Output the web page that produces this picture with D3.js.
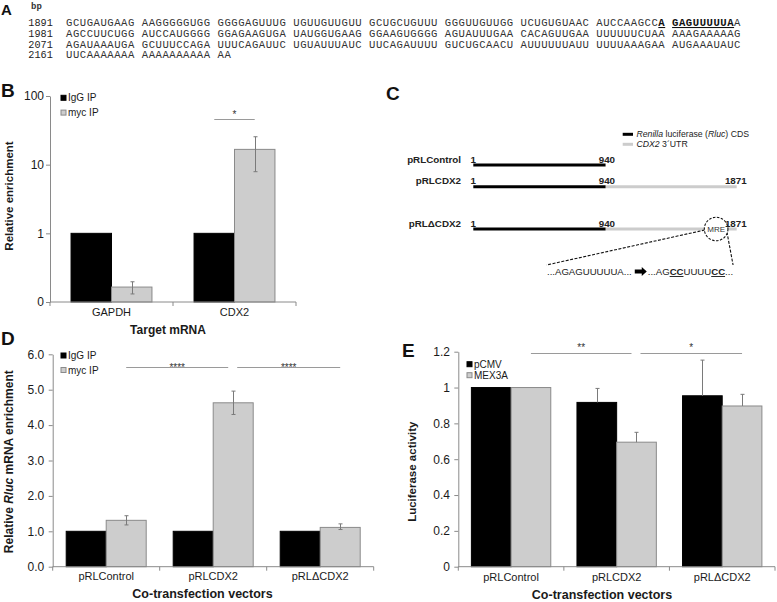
<!DOCTYPE html>
<html><head><meta charset="utf-8">
<script src="https://cdn.jsdelivr.net/npm/d3@7"></script>
<style>body{margin:0;background:#fff}svg{display:block;font-family:"Liberation Sans",Arial,sans-serif}</style>
</head><body><svg id="c" width="777" height="602"></svg>
<script>
// ---------- DATA ----------
// Panel A: CDX2 3'UTR sequence
const seqStarts = ["1891", "1981", "2071", "2161"];
const seqRows = [
  "GCUGAUGAAG AAGGGGGUGG GGGGAGUUUG UGUUGUUGUU GCUGCUGUUU GGGUUGUUGG UCUGUGUAAC AUCCAAGCCA GAGUUUUUAA",
  "AGCCUUCUGG AUCCAUGGGG GGAGAAGUGA UAUGGUGAAG GGAAGUGGGG AGUAUUUGAA CACAGUUGAA UUUUUUCUAA AAAGAAAAAG",
  "AGAUAAAUGA GCUUUCCAGA UUUCAGAUUC UGUAUUUAUC UUCAGAUUUU GUCUGCAACU AUUUUUUAUU UUUUAAAGAA AUGAAAUAUC",
  "UUCAAAAAAA AAAAAAAAAA AA"
];
const motifRanges = [[86, 87], [88, 97]]; // bold + underlined characters of row 1

// Panel B: RIP, log scale
const ripCats = ["GAPDH", "CDX2"];
const ripIgG = [1, 1];
const ripMyc = [0.165, 16.7];
const ripMycLo = [0.131, 7.9];
const ripMycHi = [0.197, 25.5];
const ripTicks = [0.1, 1, 10, 100];
const ripTickLabels = ["0", "1", "10", "100"];
const ripSig = [["CDX2", "CDX2", "*", 46]];

// Panel C: constructs
const constructs = ["pRLControl", "pRLCDX2", "pRL\u0394CDX2"];
const cdsEnd = [940, 940, 940];
const utrEnd = [null, 1871, 1871];
const mrePos = 1725;

// Panel D: Rluc mRNA enrichment
const vecCats = ["pRLControl", "pRLCDX2", "pRL\u0394CDX2"];
const rlucIgG = [1, 1, 1];
const rlucMyc = [1.31, 4.63, 1.11];
const rlucMycLo = [1.18, 4.30, 1.05];
const rlucMycHi = [1.44, 4.96, 1.21];
const rlucTicks = [0, 1, 2, 3, 4, 5, 6];
const rlucTickLabels = ["0.0", "1.0", "2.0", "3.0", "4.0", "5.0", "6.0"];
const rlucSig = [["pRLControl", "pRLCDX2", "****", 5.65], ["pRLCDX2", "pRL\u0394CDX2", "****", 5.65]];

// Panel E: luciferase activity
const lucPCMV = [1, 0.917, 0.954];
const lucPCMVErr = [0, 0.078, 0.199];
const lucMEX3A = [1, 0.695, 0.897];
const lucMEX3AErr = [0, 0.055, 0.065];
const lucTicks = [0, 0.2, 0.4, 0.6, 0.8, 1, 1.2];
const lucTickLabels = ["0", "0.2", "0.4", "0.6", "0.8", "1", "1.2"];
const lucSig = [["pRLControl", "pRLCDX2", "**", 1.191], ["pRLCDX2", "pRL\u0394CDX2", "*", 1.191]];

// ---------- STYLE ----------
const svg = d3.select("#c");
const AX = "#8a8a8a", TXT = "#1a1a1a", GF = "#cdcdcd", GS = "#8a8a8a";

function panelLabel(t, x, y, fs) {
  svg.append("text").attr("x", x).attr("y", y).attr("font-size", fs || 19)
    .attr("font-weight", "bold").attr("fill", "#111").text(t);
}

// ---------- PANEL A ----------
panelLabel("A", 1, 15, 15);
svg.append("text").attr("x", 31).attr("y", 9).attr("font-family", "Liberation Mono, monospace")
  .attr("font-size", 9).attr("font-weight", "bold").attr("fill", "#333").text("bp");
const rowY = d3.scalePoint().domain(d3.range(seqRows.length)).range([26, 58.4]);
seqRows.forEach((row, r) => {
  svg.append("text").attr("x", 28.3).attr("y", rowY(r))
    .attr("font-family", "Liberation Mono, monospace").attr("font-size", 10.2).attr("fill", "#222")
    .text(seqStarts[r]);
  const t = svg.append("text").attr("x", 66).attr("y", rowY(r))
    .attr("font-family", "Liberation Mono, monospace").attr("font-size", 10.6)
    .attr("letter-spacing", 0.53).attr("fill", "#333").attr("xml:space", "preserve")
    .style("white-space", "pre");
  let segs = [];
  if (r === 0) {
    let pos = 0;
    motifRanges.forEach(([a, b]) => {
      if (a > pos) segs.push([row.slice(pos, a), false]);
      segs.push([row.slice(a, b), true]);
      pos = b;
    });
    segs.push([row.slice(pos), false]);
  } else segs.push([row, false]);
  segs.forEach(([s, b]) => {
    const ts = t.append("tspan").text(s);
    if (b) ts.attr("font-weight", "bold").attr("fill", "#111").attr("text-decoration", "underline");
  });
});

// ---------- generic bar panel ----------
function barPanel(cfg) {
  const g = svg.append("g");
  const x = d3.scaleBand().domain(cfg.cats).range(cfg.xr).padding(0);
  const xs = d3.scaleBand().domain(cfg.series.map(s => s.name)).range([0, x.bandwidth()])
    .paddingInner(0).paddingOuter(cfg.outer);
  const y = cfg.y;
  const base = y.range()[0];

  cfg.series.forEach(s => {
    g.append("g").selectAll("rect").data(cfg.cats).join("rect")
      .attr("x", c => x(c) + xs(s.name))
      .attr("y", (c, i) => y(s.values[i]))
      .attr("width", xs.bandwidth())
      .attr("height", (c, i) => base - y(s.values[i]))
      .attr("fill", s.fill)
      .attr("stroke", s.stroke).attr("stroke-width", 1);
  });
  cfg.series.forEach(s => {
    if (!s.hi) return;
    const eg = g.append("g").attr("stroke", "#7a7a7a").attr("stroke-width", 1);
    cfg.cats.forEach((c, i) => {
      const hi = s.hi[i], lo = s.lo ? s.lo[i] : s.values[i];
      if (hi == null || hi === s.values[i]) return;
      const cx = Math.round(x(c) + xs(s.name) + xs.bandwidth() / 2) + 0.5;
      eg.append("line").attr("x1", cx).attr("x2", cx).attr("y1", y(hi)).attr("y2", y(lo));
      eg.append("line").attr("x1", cx - 2).attr("x2", cx + 2).attr("y1", y(hi)).attr("y2", y(hi));
      if (s.lo) eg.append("line").attr("x1", cx - 2).attr("x2", cx + 2).attr("y1", y(lo)).attr("y2", y(lo));
    });
  });

  const ya = d3.axisLeft(y).tickValues(cfg.ticks).tickFormat((d, i) => cfg.tickLabels[i])
    .tickSize(4).tickSizeOuter(0).tickPadding(cfg.tickPad);
  const yg = g.append("g").attr("transform", `translate(${cfg.xr[0]},0)`).call(ya);
  yg.select(".domain").attr("stroke", AX);
  yg.selectAll(".tick line").attr("stroke", AX);
  yg.selectAll("text").attr("font-size", 12).attr("fill", TXT)
    .attr("font-family", '"Liberation Sans", Arial, sans-serif');

  g.append("line").attr("x1", cfg.xr[0]).attr("x2", cfg.xr[1]).attr("y1", base).attr("y2", base)
    .attr("stroke", AX);
  const bounds = cfg.cats.map(c => x(c)).concat([x(cfg.cats[cfg.cats.length - 1]) + x.bandwidth()]);
  g.append("g").selectAll("line").data(bounds).join("line")
    .attr("x1", d => d).attr("x2", d => d).attr("y1", base).attr("y2", base + 4).attr("stroke", AX);
  g.append("g").selectAll("text").data(cfg.cats).join("text")
    .attr("x", c => x(c) + x.bandwidth() / 2).attr("y", base + cfg.labelDy)
    .attr("text-anchor", "middle").attr("font-size", 11).attr("fill", TXT).text(c => c);

  g.append("text").attr("x", cfg.xTitle[1]).attr("y", cfg.xTitle[2]).attr("text-anchor", "middle")
    .attr("font-size", cfg.xTitle[3]).attr("font-weight", "bold").attr("fill", TXT).text(cfg.xTitle[0]);
  const yt = g.append("text").attr("transform", `translate(${cfg.yTitle.x},${cfg.yTitle.y}) rotate(-90)`)
    .attr("dy", "0.35em").attr("text-anchor", "middle").attr("font-size", cfg.yTitle.fs)
    .attr("font-weight", "bold").attr("fill", TXT);
  cfg.yTitle.parts.forEach(([t, it]) => {
    const ts = yt.append("tspan").text(t);
    if (it) ts.attr("font-style", "italic");
  });

  const sname = cfg.series[cfg.series.length - 1].name;
  const sname0 = cfg.series[0].name;
  cfg.sig.forEach(([a, b, lab, v], k) => {
    let x1, x2;
    if (a === b) { x1 = x(a) + xs(sname0) + xs.bandwidth() / 2; x2 = x(b) + xs(sname) + xs.bandwidth() / 2; }
    else {
      x1 = x(a) + xs(sname) + xs.bandwidth() / 2 + (k > 0 ? 4 : 0);
      x2 = x(b) + xs(sname) + xs.bandwidth() / 2 - (k === 0 ? 5 : 0);
    }
    const yy = Math.round(y(v)) + 0.5;
    g.append("line").attr("x1", x1).attr("x2", x2).attr("y1", yy).attr("y2", yy)
      .attr("stroke", "#9a9a9a").attr("stroke-width", 1);
    g.append("text").attr("x", (x1 + x2) / 2).attr("y", yy + cfg.starDy).attr("text-anchor", "middle")
      .attr("font-size", 10).attr("fill", "#333").text(lab);
  });

  cfg.series.forEach((s, i) => {
    const ly = cfg.legend[1] + i * cfg.legend[2];
    g.append("rect").attr("x", cfg.legend[0]).attr("y", ly - 2.5).attr("width", 5).attr("height", 5)
      .attr("fill", s.fill).attr("stroke", s.stroke);
    g.append("text").attr("x", cfg.legend[0] + 7).attr("y", ly + 3.6).attr("font-size", 10)
      .attr("fill", TXT).text(s.name);
  });
  return { x, xs, y };
}

// ---------- PANEL B ----------
panelLabel("B", 1, 96.7);
barPanel({
  cats: ripCats, xr: [50, 296], outer: 0.52,
  y: d3.scaleLog().domain([0.1, 100]).range([302, 96]),
  ticks: ripTicks, tickLabels: ripTickLabels, tickPad: 2,
  series: [
    { name: "IgG IP", values: ripIgG, fill: "#000", stroke: "#000" },
    { name: "myc IP", values: ripMyc, lo: ripMycLo, hi: ripMycHi, fill: GF, stroke: GS }
  ],
  labelDy: 13.5, xTitle: ["Target mRNA", 168, 333.5, 12],
  yTitle: { x: 9, y: 196, fs: 11.5, parts: [["Relative enrichment", false]] },
  sig: ripSig, starDy: -1.5, legend: [61, 97.8, 14.8]
});

// ---------- PANEL D ----------
panelLabel("D", 1, 345);
barPanel({
  cats: vecCats, xr: [52.7, 373.7], outer: 0.3375,
  y: d3.scaleLinear().domain([0, 6]).range([566.7, 354.3]),
  ticks: rlucTicks, tickLabels: rlucTickLabels, tickPad: 4.5,
  series: [
    { name: "IgG IP", values: rlucIgG, fill: "#000", stroke: "#000" },
    { name: "myc IP", values: rlucMyc, lo: rlucMycLo, hi: rlucMycHi, fill: GF, stroke: GS }
  ],
  labelDy: 13, xTitle: ["Co-transfection vectors", 202.5, 597.8, 12.5],
  yTitle: { x: 8.5, y: 461.7, fs: 12, parts: [["Relative ", false], ["Rluc", true], [" mRNA enrichment", false]] },
  sig: rlucSig, starDy: 3, legend: [61, 355.5, 14.5]
});

// ---------- PANEL E ----------
panelLabel("E", 402, 356.7);
barPanel({
  cats: vecCats, xr: [458.3, 775], outer: 0.33,
  y: d3.scaleLinear().domain([0, 1.2]).range([566.7, 351.7]),
  ticks: lucTicks, tickLabels: lucTickLabels, tickPad: 4.3,
  series: [
    { name: "pCMV", values: lucPCMV, hi: lucPCMV.map((v, i) => v + lucPCMVErr[i]), fill: "#000", stroke: "#000" },
    { name: "MEX3A", values: lucMEX3A, hi: lucMEX3A.map((v, i) => v + lucMEX3AErr[i]), fill: GF, stroke: GS }
  ],
  labelDy: 14, xTitle: ["Co-transfection vectors", 602, 599.3, 12.5],
  yTitle: { x: 411.7, y: 471.7, fs: 11.5, parts: [["Luciferase activity", false]] },
  sig: lucSig, starDy: -3, legend: [467, 364.2, 11]
});

// ---------- PANEL C ----------
panelLabel("C", 386, 100);
const cx = d3.scaleLinear().domain([1, 1871]).range([473.3, 736.7]);
const cy = d3.scaleOrdinal().domain(constructs).range([165, 186.7, 229]);
const cg = svg.append("g");
cg.append("line").attr("x1", 622.7).attr("x2", 633).attr("y1", 134.3).attr("y2", 134.3)
  .attr("stroke", "#000").attr("stroke-width", 3);
const l1 = cg.append("text").attr("x", 636.5).attr("y", 137.4).attr("font-size", 8.7).attr("fill", "#222");
l1.append("tspan").attr("font-style", "italic").text("Renilla");
l1.append("tspan").text(" luciferase (");
l1.append("tspan").attr("font-style", "italic").text("Rluc");
l1.append("tspan").text(") CDS");
cg.append("line").attr("x1", 622.7).attr("x2", 633).attr("y1", 144.3).attr("y2", 144.3)
  .attr("stroke", "#cccccc").attr("stroke-width", 3);
const l2 = cg.append("text").attr("x", 636.5).attr("y", 147.4).attr("font-size", 8.7).attr("fill", "#222");
l2.append("tspan").attr("font-style", "italic").text("CDX2");
l2.append("tspan").text(" 3\u00B4UTR");

constructs.forEach((c, i) => {
  const yy = cy(c);
  if (utrEnd[i]) cg.append("line").attr("x1", cx(cdsEnd[i])).attr("x2", cx(utrEnd[i])).attr("y1", yy).attr("y2", yy)
    .attr("stroke", "#cccccc").attr("stroke-width", 3);
  cg.append("line").attr("x1", cx(1)).attr("x2", cx(cdsEnd[i])).attr("y1", yy).attr("y2", yy)
    .attr("stroke", "#000").attr("stroke-width", 3);
  cg.append("text").attr("x", 461).attr("y", yy - 2.5).attr("text-anchor", "end").attr("font-size", 9.8)
    .attr("font-weight", "bold").attr("fill", "#222").text(c);
  cg.append("text").attr("x", cx(1)).attr("y", yy - 2.5).attr("text-anchor", "middle").attr("font-size", 9.8)
    .attr("font-weight", "bold").attr("fill", "#222").text("1");
  cg.append("text").attr("x", cx(cdsEnd[i]) + 9.5).attr("y", yy - 2.5).attr("text-anchor", "end").attr("font-size", 9.8)
    .attr("font-weight", "bold").attr("fill", "#222").text(cdsEnd[i]);
});
const mreY = cy(constructs[2]);
const mreX = cx(mrePos);
const R = 11.8;
const s1 = cg.append("text").attr("x", 547).attr("y", 275).attr("font-size", 9.6).attr("fill", "#222")
  .text("...AGAGUUUUUA...");
const w1 = s1.node().getComputedTextLength();
const ax0 = 547 + w1 + 3;
cg.append("path").attr("d", `M${ax0},${269.5}h7v-2.5l5,4.5l-5,4.5v-2.5h-7z`).attr("fill", "#000");
const s2 = cg.append("text").attr("x", ax0 + 13).attr("y", 275).attr("font-size", 9.6).attr("fill", "#222");
[["...AG", false], ["CC", true], ["UUUU", false], ["CC", true], ["...", false]].forEach(([t, b]) => {
  const ts = s2.append("tspan").text(t);
  if (b) ts.attr("font-weight", "bold").attr("text-decoration", "underline");
});
const w2 = s2.node().getComputedTextLength();
cg.append("line").attr("x1", mreX - R + 0.5).attr("y1", mreY + 1).attr("x2", 546.5).attr("y2", 265)
  .attr("stroke", "#111").attr("stroke-width", 1.1).attr("stroke-dasharray", "3,1.5");
cg.append("line").attr("x1", mreX + R - 1).attr("y1", mreY + 3).attr("x2", ax0 + 13 + w2).attr("y2", 265)
  .attr("stroke", "#111").attr("stroke-width", 1.1).attr("stroke-dasharray", "3,1.5");
cg.append("circle").attr("cx", mreX).attr("cy", mreY).attr("r", R).attr("fill", "#fff")
  .attr("stroke", "#111").attr("stroke-width", 1.1).attr("stroke-dasharray", "2.5,1.5");
cg.append("text").attr("x", mreX).attr("y", mreY + 3).attr("text-anchor", "middle").attr("font-size", 8)
  .attr("fill", "#333").text("MRE");
constructs.forEach((c, i) => {
  if (!utrEnd[i]) return;
  cg.append("text").attr("x", cx(utrEnd[i]) + 10).attr("y", cy(c) - 2.5).attr("text-anchor", "end").attr("font-size", 9.8)
    .attr("font-weight", "bold").attr("fill", "#222").text(utrEnd[i]);
});
</script></body></html>
